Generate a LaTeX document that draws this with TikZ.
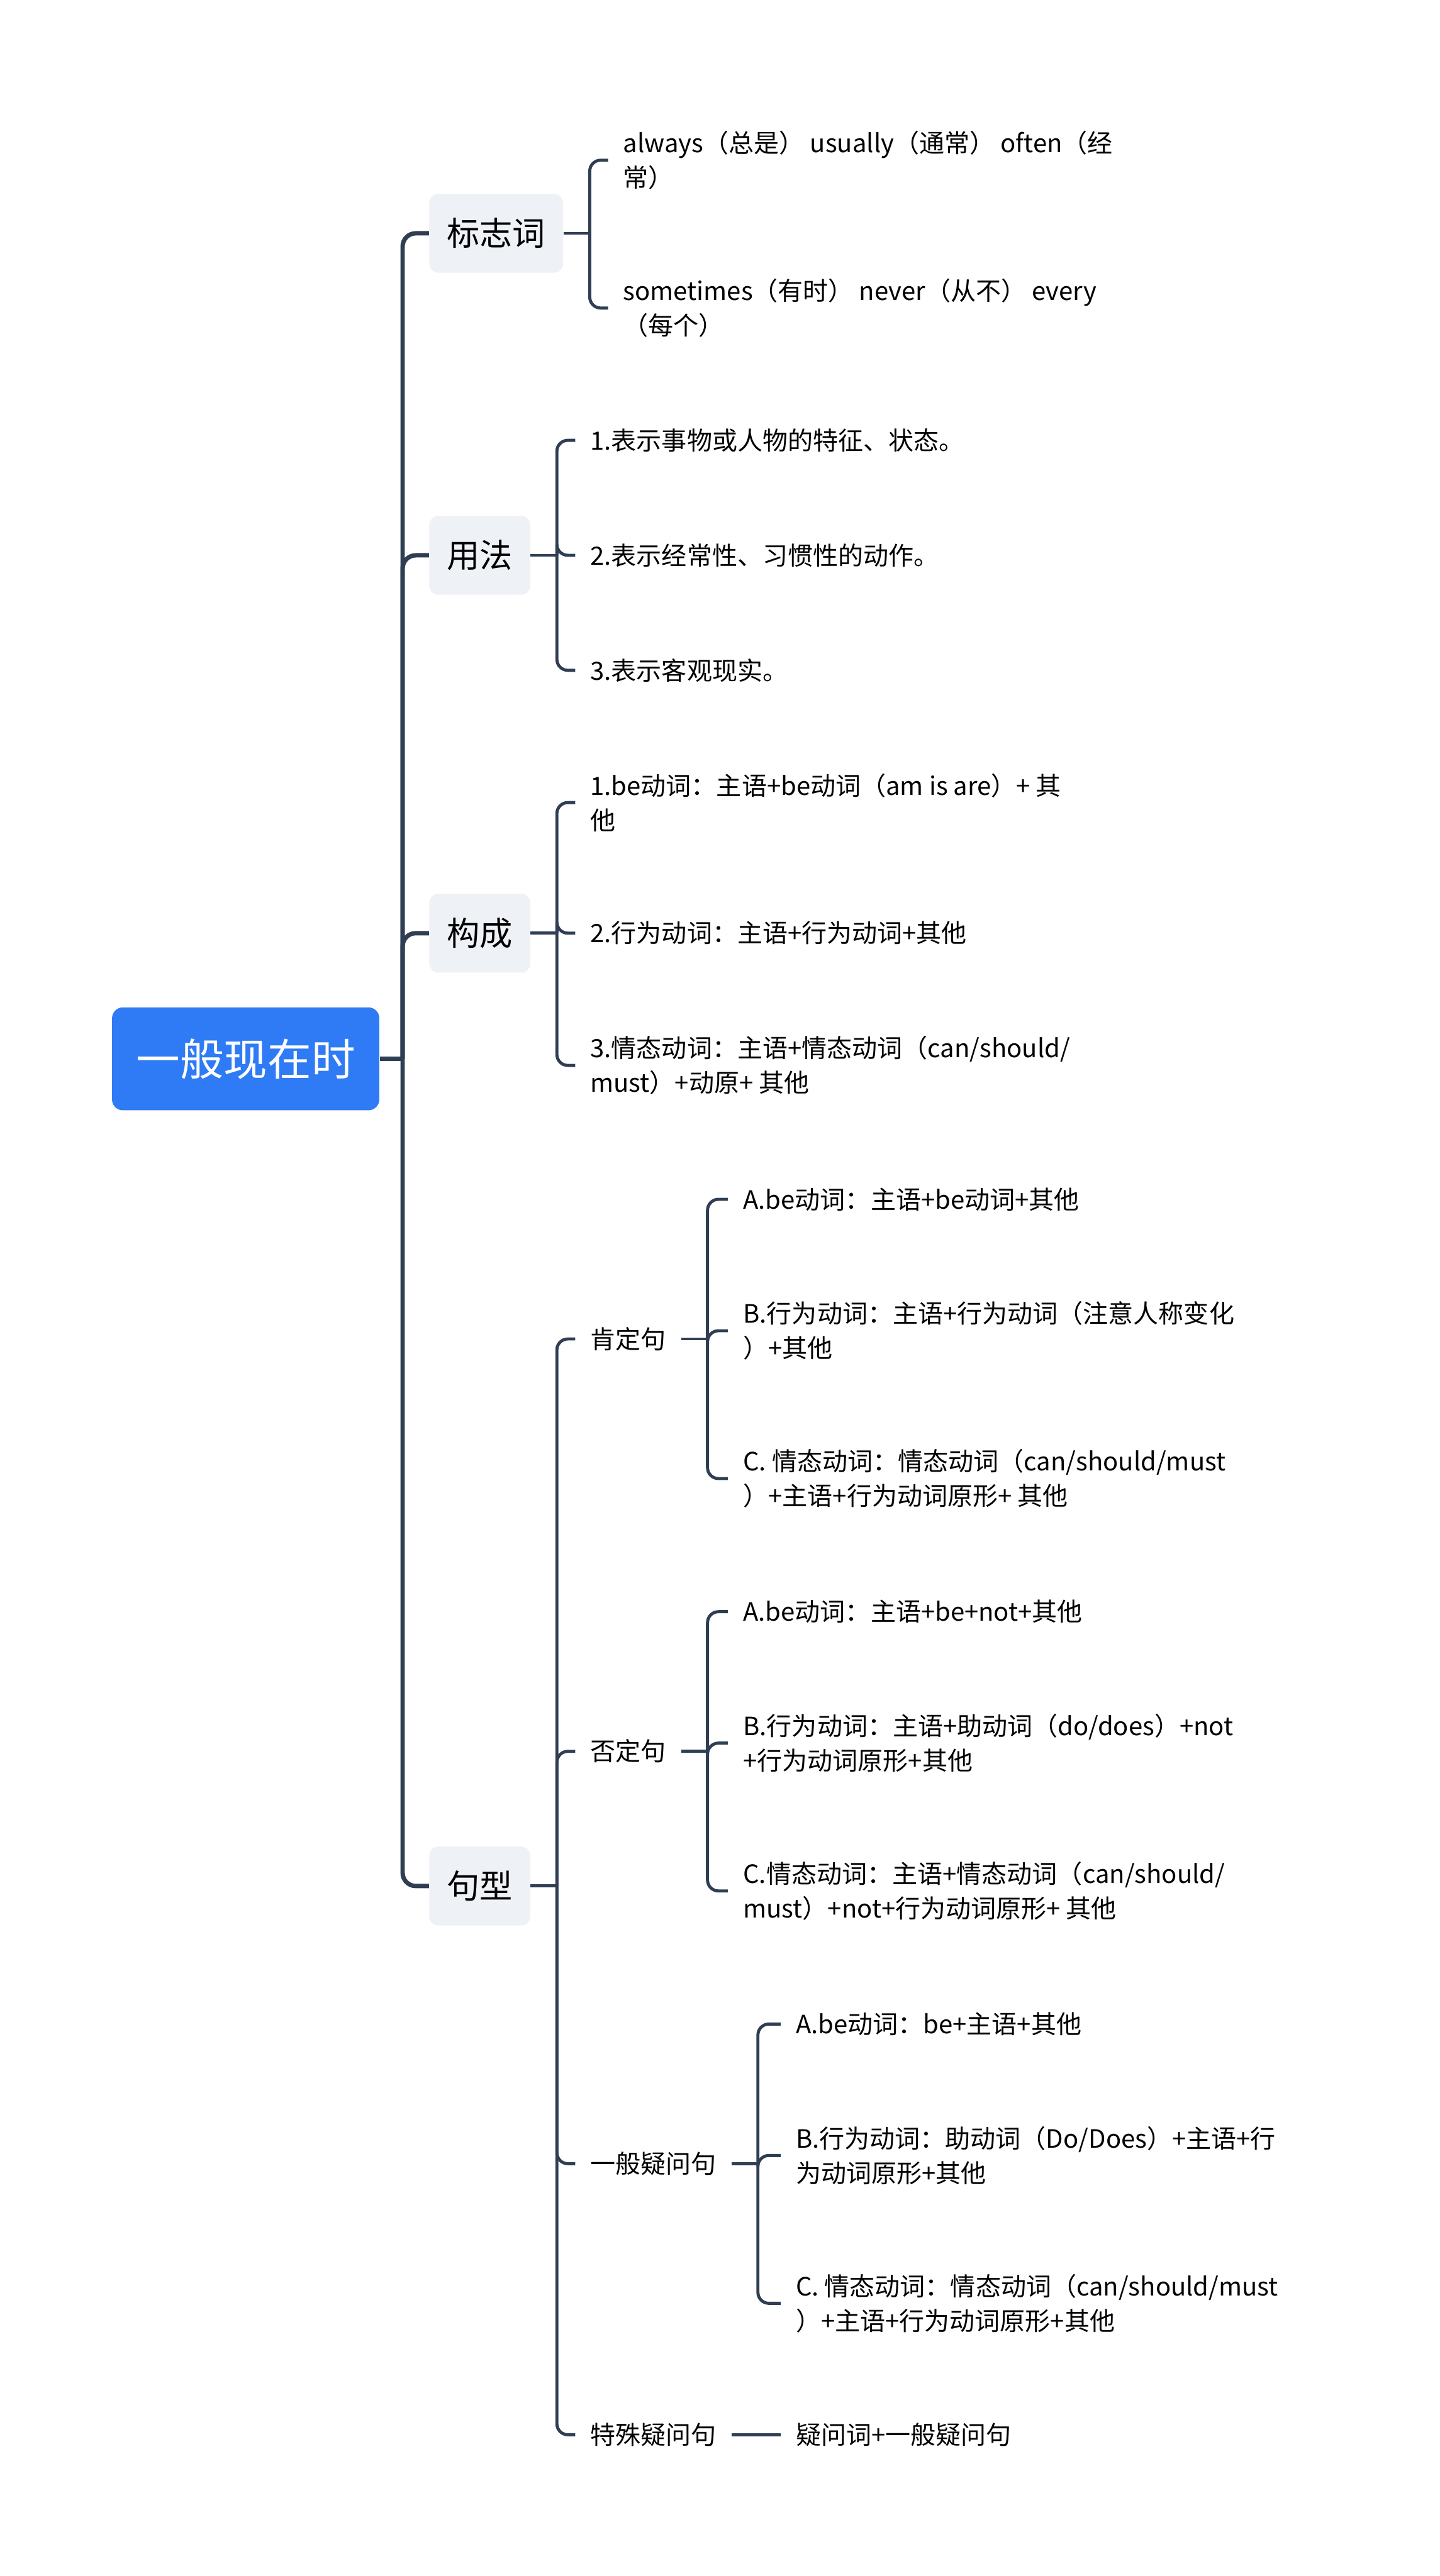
\documentclass[tikz,border=0pt]{standalone}
\usepackage{fontspec}
\setmainfont{Noto Sans CJK SC}
\usetikzlibrary{positioning}
\definecolor{rootblue}{HTML}{2F7BF5}
\definecolor{topicgray}{HTML}{EEF1F5}
\definecolor{linkslate}{HTML}{2F3E53}
\tikzset{
  root/.style={fill=rootblue, text=white, rounded corners=5pt, minimum width=122pt, minimum height=47pt, inner sep=0pt, font=\fontsize{20}{24}\selectfont},
  topic/.style={anchor=west, fill=topicgray, rounded corners=4pt, minimum height=36pt, inner xsep=8pt, font=\fontsize{15}{18}\selectfont},
  leaf/.style={anchor=west, inner xsep=6.75pt, inner ysep=2pt, align=left, font=\fontsize{11.5}{15.75}\selectfont},
  trunk/.style={draw=linkslate, line width=2pt, rounded corners=6pt},
  twig/.style={draw=linkslate, line width=1.4pt, rounded corners=5pt},
}
\begin{document}
\begin{tikzpicture}[x=0.75pt, y=-0.75pt]
\useasboundingbox (0,0) rectangle (876,1568);

% root and main topics
\node[root] (tense) at (149.5,644.5) {一般现在时};
\node[topic] (kw) at (261,142) {标志词};
\node[topic] (use) at (261,338) {用法};
\node[topic] (form) at (261,568) {构成};
\node[topic] (pattern) at (261,1148) {句型};

\coordinate (hub) at (245,644.5);
\draw[trunk] (tense.east) -- (hub);
\foreach \t in {kw,use,form,pattern}
  \draw[trunk] (hub) |- (\t.west);

% 标志词
\node[leaf] (kw1) at (370,97.5) {always（总是） usually（通常） often（经\\常）};
\node[leaf] (kw2) at (370,187.5) {sometimes（有时） never（从不） every\\（每个）};

% 用法
\node[leaf] (use1) at (350,268) {1.表示事物或人物的特征、状态。};
\node[leaf] (use2) at (350,338) {2.表示经常性、习惯性的动作。};
\node[leaf] (use3) at (350,408) {3.表示客观现实。};

% 构成
\node[leaf] (form1) at (350,488.5) {1.be动词：主语+be动词（am is are）+ 其\\他};
\node[leaf] (form2) at (350,568) {2.行为动词：主语+行为动词+其他};
\node[leaf] (form3) at (350,648.5) {3.情态动词：主语+情态动词（can/should/\\must）+动原+ 其他};

% 句型
\node[leaf] (pos) at (350,815) {肯定句};
\node[leaf] (neg) at (350,1066) {否定句};
\node[leaf] (yesno) at (350,1317) {一般疑问句};
\node[leaf] (wh) at (350,1482) {特殊疑问句};

\node[leaf] (pos1) at (443,730) {A.be动词：主语+be动词+其他};
\node[leaf] (pos2) at (443,810) {B.行为动词：主语+行为动词（注意人称变化\\）+其他};
\node[leaf] (pos3) at (443,900) {C. 情态动词：情态动词（can/should/must\\）+主语+行为动词原形+ 其他};

\node[leaf] (neg1) at (443,981) {A.be动词：主语+be+not+其他};
\node[leaf] (neg2) at (443,1061) {B.行为动词：主语+助动词（do/does）+not\\+行为动词原形+其他};
\node[leaf] (neg3) at (443,1151) {C.情态动词：主语+情态动词（can/should/\\must）+not+行为动词原形+ 其他};

\node[leaf] (yn1) at (475,1232) {A.be动词：be+主语+其他};
\node[leaf] (yn2) at (475,1312) {B.行为动词：助动词（Do/Does）+主语+行\\为动词原形+其他};
\node[leaf] (yn3) at (475,1402) {C. 情态动词：情态动词（can/should/must\\）+主语+行为动词原形+其他};

\node[leaf] (wh1) at (475,1482) {疑问词+一般疑问句};

% brackets
\foreach \p/\kids in {kw/{kw1,kw2}, use/{use1,use2,use3}, form/{form1,form2,form3},
    pattern/{pos,neg,yesno,wh}, pos/{pos1,pos2,pos3}, neg/{neg1,neg2,neg3}, yesno/{yn1,yn2,yn3}} {
  \coordinate[right=12pt of \p.east] (\p-b);
  \draw[twig] (\p.east) -- (\p-b);
  \foreach \c in \kids
    \draw[twig] (\p-b) |- (\c.west);
}
\draw[twig] (wh) -- (wh1);
\end{tikzpicture}
\end{document}
